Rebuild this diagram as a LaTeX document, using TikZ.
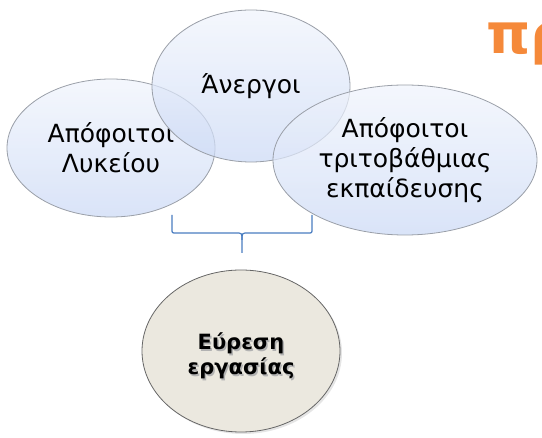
\documentclass[tikz,border=0pt]{standalone}
\usepackage{fontspec}
\setmainfont{DejaVu Sans}
\usetikzlibrary{shapes.geometric}
\definecolor{setline}{HTML}{9A9FA8}
\definecolor{setlight}{HTML}{F0F4FC}
\definecolor{setdark}{HTML}{CBD9F5}
\definecolor{goalfill}{HTML}{EBE8DF}
\definecolor{bracecol}{HTML}{4A7DC0}
\definecolor{titleorange}{HTML}{F5893A}
\tikzset{
  groupset/.style={ellipse, draw=setline, line width=0.8pt, inner sep=0pt,
    top color=setlight, bottom color=setdark, fill opacity=0.72,
    text opacity=1, align=center, font=\fontsize{25}{30}\selectfont},
  goalset/.style={ellipse, draw=black!60, line width=0.8pt, inner sep=0pt,
    fill=goalfill, align=center},
  goaltext/.style={align=center, font=\bfseries\fontsize{21}{25}\selectfont},
}
\begin{document}
\begin{tikzpicture}[x=1pt, y=-1pt]
    \useasboundingbox (0,0) rectangle (542,438);
    \begin{scope}
    \clip (0,0) rectangle (542,438);
    \node[anchor=base west, inner sep=0pt, text=titleorange, font=\bfseries\fontsize{56}{60}\selectfont] (title) at (486,54) {πρ};
    \end{scope}
    \node[groupset, minimum width=208pt, minimum height=138pt] (lyk) at (111,148) {Απόφοιτοι\\Λυκείου};
    \node[groupset, minimum width=198pt, minimum height=152pt] (aner) at (251,86) {Άνεργοι};
    \node[groupset, minimum width=264pt, minimum height=150pt] (tri) at (405,160) {Απόφοιτοι\\τριτοβάθμιας\\εκπαίδευσης};
    \node[ellipse, fill=black!20, opacity=0.5, minimum width=198pt, minimum height=162pt] at (243,353) {};
    \node[goalset, minimum width=198pt, minimum height=162pt] (goal) at (241,351) {};
    \node[goaltext, text=black!30] at (242.5,357.5) {Εύρεση\\εργασίας};
    \node[goaltext] (goallabel) at (241,356) {Εύρεση\\εργασίας};
    % brace
    \coordinate (bl) at (172,215);
    \coordinate (br) at (312,215);
    \coordinate (bm) at (242,253);
    \draw[bracecol, line width=1.2pt, line join=round]
        (bl) -- (172,229) .. controls (172,233) .. (176,233) -- (236,233)
        .. controls (242,233) .. (242,240) -- (bm);
    \draw[bracecol, line width=1.2pt, line join=round]
        (br) -- (312,229) .. controls (312,233) .. (308,233) -- (248,233)
        .. controls (242,233) .. (242,240);
\end{tikzpicture}
\end{document}
